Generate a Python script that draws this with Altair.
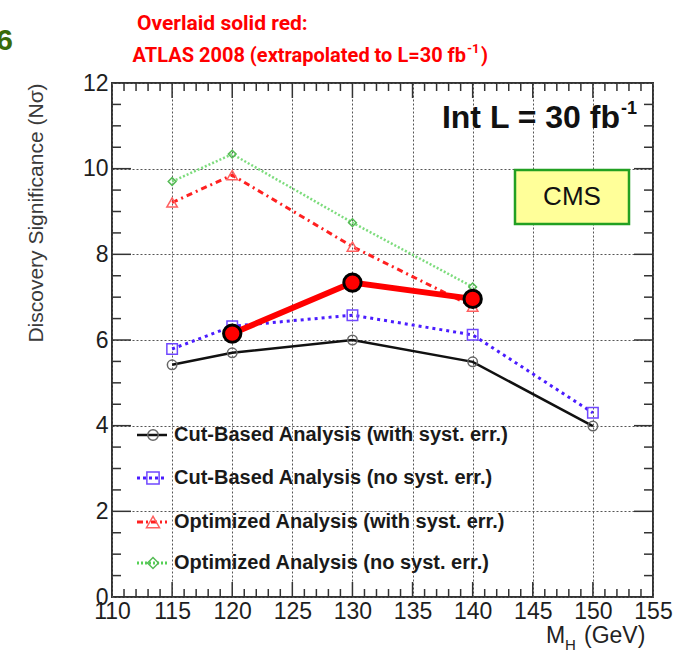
import altair as alt
import pandas as pd

# Higgs mass points (GeV) and discovery significance (N sigma)
mass = [115, 120, 130, 140, 150]
cut_syst = [5.42, 5.70, 6.00, 5.49, 3.99]
cut_nosyst = [5.79, 6.32, 6.58, 6.12, 4.30]

opt_mass = [115, 120, 130, 140]
opt_syst = [9.21, 9.85, 8.18, 6.78]
opt_nosyst = [9.70, 10.34, 8.74, 7.24]

atlas_mass = [120, 130, 140]
atlas = [6.15, 7.34, 6.96]

x_ticks = [110, 115, 120, 125, 130, 135, 140, 145, 150, 155]
y_ticks = [0, 2, 4, 6, 8, 10, 12]

legend_labels = [
    "Cut-Based Analysis (with syst. err.)",
    "Cut-Based Analysis (no syst. err.)",
    "Optimized Analysis (with syst. err.)",
    "Optimized Analysis (no syst. err.)",
]

W, H = 541, 514
FONT = "Liberation Sans"
HEAD = "Roboto"

xs = alt.Scale(domain=[110, 155], nice=False, zero=False)
ys = alt.Scale(domain=[0, 12], nice=False)

grid_kw = dict(ticks=False, domain=False, grid=True, gridDash=[2, 2],
               gridColor="#555", gridWidth=1, title=None,
               labelFont=FONT, labelFontSize=23, labelColor="#1e1e1e",
               labelOverlap=False, labelFlush=False, format="d")
xaxis = alt.Axis(values=x_ticks, labelPadding=3, **grid_kw)
yaxis = alt.Axis(values=y_ticks, labelPadding=4, **grid_kw)

one = pd.DataFrame({"k": [0]})


def X(field):
    return alt.X(field, type="quantitative", scale=xs, axis=xaxis)


def Y(field):
    return alt.Y(field, type="quantitative", scale=ys, axis=yaxis)


def series(xv, yv, color, width, dash, shape, mcolor, msize, mwidth=1.5):
    df = pd.DataFrame({"m": xv, "s": yv})
    base = alt.Chart(df).encode(x=X("m"), y=Y("s"))
    line_kw = dict(color=color, strokeWidth=width)
    if dash:
        line_kw["strokeDash"] = dash
    line = base.mark_line(**line_kw)
    pts = base.mark_point(shape=shape, filled=False, color=mcolor,
                          size=msize, strokeWidth=mwidth, opacity=1)
    return [line, pts]


def inner_ticks(vals, side, length):
    if side in ("bottom", "top"):
        df = pd.DataFrame({"m": vals})
        y0 = H if side == "bottom" else 0
        y1 = H - length if side == "bottom" else length
        return alt.Chart(df).mark_rule(color="#333", strokeWidth=1.5).encode(
            x=X("m"), y=alt.value(y0), y2=alt.value(y1))
    df = pd.DataFrame({"s": vals})
    x0 = 0 if side == "left" else W
    x1 = length if side == "left" else W - length
    return alt.Chart(df).mark_rule(color="#333", strokeWidth=1.5).encode(
        y=Y("s"), x=alt.value(x0), x2=alt.value(x1))


def label(text, x, y, size, color="#111", weight="normal", align="left",
          baseline="alphabetic", font=FONT, angle=None):
    kw = dict(text=text, fontSize=size, color=color, fontWeight=weight,
              align=align, baseline=baseline, font=font)
    if angle is not None:
        kw["angle"] = angle
    return alt.Chart(one).mark_text(**kw).encode(x=alt.value(x), y=alt.value(y))


x_minor = [v for v in range(111, 155) if v % 5 != 0]
x_major = [v for v in range(115, 155, 5)]
y_minor = [v / 2 for v in range(1, 24) if v % 4 != 0]
y_major = [2, 4, 6, 8, 10]

layers = []
# frame ticks pointing inward on all four sides
for side in ("bottom", "top"):
    layers.append(inner_ticks(x_minor, side, 8))
    layers.append(inner_ticks(x_major, side, 15))
for side in ("left", "right"):
    layers.append(inner_ticks(y_minor, side, 9))
    layers.append(inner_ticks(y_major, side, 19))

# CMS curves
layers += series(opt_mass, opt_nosyst, "#7ddc7d", 2.5, [2, 2], "diamond", "#55bb55", 60)
layers += series(opt_mass, opt_syst, "#ff2020", 3, [6, 4, 2, 4], "triangle-up", "#ff6060", 110)
layers += series(mass, cut_nosyst, "#4a1cff", 3, [3, 4], "square", "#7048ff", 110)
layers += series(mass, cut_syst, "#111111", 2.5, None, "circle", "#666666", 90)

# ATLAS 2008 overlay
atlas_df = pd.DataFrame({"m": atlas_mass, "s": atlas})
atlas_base = alt.Chart(atlas_df).encode(x=X("m"), y=Y("s"))
layers.append(atlas_base.mark_line(color="#ff0000", strokeWidth=6))
layers.append(atlas_base.mark_point(shape="circle", filled=True, fill="#ff0000",
                                    stroke="#000000", strokeWidth=3, size=300, opacity=1))

# legend drawn inside the frame
rows_y = [352, 395, 439, 480]
styles = [
    dict(color="#111111", width=2.5, dash=None, shape="circle", mcolor="#666666", msize=110),
    dict(color="#4a1cff", width=3, dash=[3, 3], shape="square", mcolor="#7048ff", msize=150),
    dict(color="#ff2020", width=3, dash=[6, 3, 2, 3], shape="triangle-up", mcolor="#ff6060", msize=170),
    dict(color="#55d055", width=3, dash=[2, 2], shape="diamond", mcolor="#55bb55", msize=120),
]
for yy, st, txt in zip(rows_y, styles, legend_labels):
    rule_kw = dict(color=st["color"], strokeWidth=st["width"])
    if st["dash"]:
        rule_kw["strokeDash"] = st["dash"]
    layers.append(alt.Chart(one).mark_rule(**rule_kw).encode(
        x=alt.value(25), x2=alt.value(55), y=alt.value(yy)))
    layers.append(alt.Chart(one).mark_point(
        shape=st["shape"], filled=False, color=st["mcolor"], size=st["msize"],
        strokeWidth=1.5, opacity=1).encode(x=alt.value(41), y=alt.value(yy)))
    layers.append(label(txt, 62, yy, 20, color="#1a1a1a", weight="bold",
                        baseline="middle"))

# luminosity tag and CMS box
layers.append(label("Int L = 30 fb", 508, 45, 32, weight="bold", align="right"))
layers.append(label("-1", 509, 31, 18, weight="bold"))
layers.append(alt.Chart(one).mark_rect(fill="#ffff99", stroke="#22a022", strokeWidth=2.5).encode(
    x=alt.value(403), x2=alt.value(517), y=alt.value(87), y2=alt.value(141)))
layers.append(label("CMS", 460, 114, 26, align="center", baseline="middle"))

# axis titles
layers.append(label("Discovery Significance (N\u03c3)", -75, 130, 21, color="#3a3a3a",
                    align="center", baseline="middle", angle=270))
layers.append(label("M", 434, 560, 23, color="#222"))
layers.append(label("H", 453, 567, 15, color="#222"))
layers.append(label("(GeV)", 472, 560, 23, color="#222"))

# heading above the frame
layers.append(label("Overlaid solid red:", 25, -53, 21, color="#ff0000",
                    weight="bold", font=HEAD))
layers.append(label("ATLAS 2008 (extrapolated to L=30 fb", 354, -21, 20, color="#ff0000",
                    weight="bold", align="right", font=HEAD))
layers.append(label("-1", 355, -30, 13, color="#ff0000", weight="bold", font=HEAD))
layers.append(label(")", 369, -21, 20, color="#ff0000", weight="bold", font=HEAD))
layers.append(label("6", -99, -33, 30, color="#3a6a0a", weight="bold", align="right"))

chart = alt.layer(*layers).properties(
    width=W, height=H,
    autosize=alt.AutoSizeParams(type="none"),
    padding={"left": 112, "top": 83, "right": 29, "bottom": 58},
).configure_view(stroke="#333", strokeWidth=2)

chart.save("out.html", embed_options={"renderer": "svg", "actions": False})
